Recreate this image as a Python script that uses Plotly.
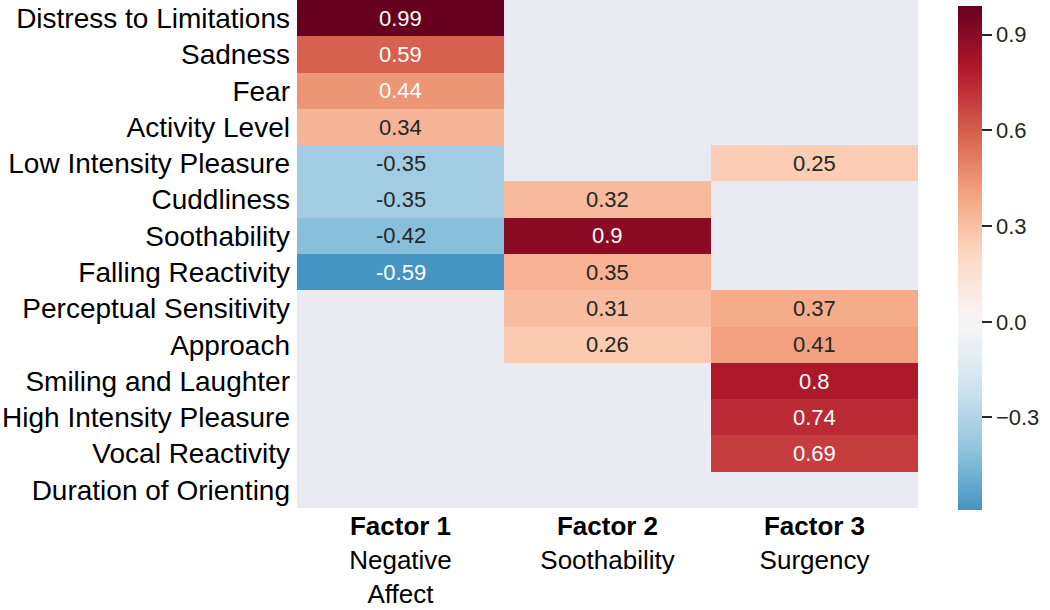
import numpy as np
import plotly.graph_objects as go

rows = ["Distress to Limitations", "Sadness", "Fear", "Activity Level",
        "Low Intensity Pleasure", "Cuddliness", "Soothability", "Falling Reactivity",
        "Perceptual Sensitivity", "Approach", "Smiling and Laughter",
        "High Intensity Pleasure", "Vocal Reactivity", "Duration of Orienting"]
factor_labels = ["<b>Factor 1</b><br>Negative<br>Affect",
                 "<b>Factor 2</b><br>Soothability",
                 "<b>Factor 3</b><br>Surgency"]
factor1 = [0.99, 0.59, 0.44, 0.34, -0.35, -0.35, -0.42, -0.59, None, None, None, None, None, None]
factor2 = [None, None, None, None, None, 0.32, 0.9, 0.35, 0.31, 0.26, None, None, None, None]
factor3 = [None, None, None, None, 0.25, None, None, None, 0.37, 0.41, 0.8, 0.74, 0.69, None]
cbar_ticks = [-0.3, 0.0, 0.3, 0.6, 0.9]

cols = [factor1, factor2, factor3]
z = [[cols[j][i] for j in range(3)] for i in range(len(rows))]
vals = [v for c in cols for v in c if v is not None]
vmin, vmax = min(vals), max(vals)

# RdBu_r (ColorBrewer 11) centred at 0, sliced to [vmin, vmax] like seaborn
rdbu_r = [(5,48,97),(33,102,172),(67,147,195),(146,197,222),(209,229,240),(247,247,247),
          (253,219,199),(244,165,130),(214,96,77),(178,24,43),(103,0,31)]
arr = np.array(rdbu_r, dtype=float)
vr = max(abs(vmin), abs(vmax))
def cmap(v):
    f = (v + vr) / (2 * vr) * 10
    k = min(int(np.floor(f)), 9)
    t = f - k
    c = arr[k] * (1 - t) + arr[k + 1] * t
    return "rgb(%d,%d,%d)" % tuple(np.round(c))
n = 40
colorscale = [[i / (n - 1), cmap(vmin + (vmax - vmin) * i / (n - 1))] for i in range(n)]

FONT = "Liberation Sans, Arial, Helvetica"
PL, PR, PT, PB = 297, 918, 0, 508
pw, ph = PR - PL, PB - PT

fig = go.Figure(go.Heatmap(
    z=z, x=[0, 1, 2], y=list(range(len(rows))),
    zmin=vmin, zmax=vmax, colorscale=colorscale, hoverongaps=False,
    colorbar=dict(thickness=24, thicknessmode="pixels", len=504 / ph, lenmode="fraction",
                  y=1 - 6 / ph, yanchor="top", ypad=0,
                  x=(958 - PL) / pw, xanchor="left", xpad=0, outlinewidth=0,
                  tickvals=cbar_ticks, ticktext=["\u22120.3", "0.0", "0.3", "0.6", "0.9"],
                  ticks="outside", ticklen=10, tickwidth=2, tickcolor="#262626",
                  tickfont=dict(family=FONT, size=22, color="#262626")),
))

for j, c in enumerate(cols):
    for i, v in enumerate(c):
        if v is None:
            continue
        color = "white" if (v >= 0.44 or v <= -0.5) else "#262626"
        fig.add_annotation(x=j, y=i, text="{:.2g}".format(v), showarrow=False,
                           font=dict(family=FONT, size=22, color=color))

fig.update_xaxes(tickvals=[0, 1, 2], ticktext=factor_labels, side="bottom",
                 range=[-0.5, 2.5], showgrid=False, zeroline=False, ticks="",
                 ticklabelstandoff=0,
                 tickfont=dict(family=FONT, size=26, color="black"))
fig.update_yaxes(tickvals=list(range(len(rows))), ticktext=rows, autorange=False,
                 range=[len(rows) - 0.5, -0.5], showgrid=False, zeroline=False, ticks="",
                 ticklabelstandoff=6,
                 tickfont=dict(family=FONT, size=28, color="black"))
fig.update_layout(width=1050, height=610,
                  margin=dict(l=PL, r=1050 - PR, t=PT, b=610 - PB, autoexpand=False),
                  plot_bgcolor="#EAEAF2", paper_bgcolor="white")
fig.write_html("out.html", config={"displayModeBar": False},
               post_script="document.body.style.margin='0px';")
